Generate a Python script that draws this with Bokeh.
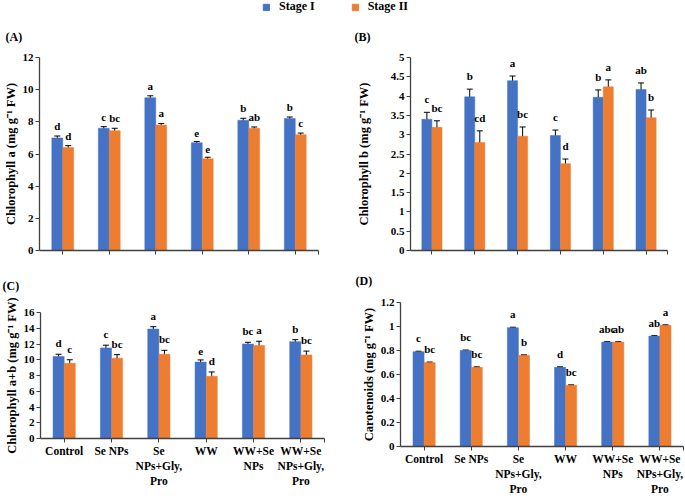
from bokeh.plotting import figure
from bokeh.models import (ColumnDataSource, FixedTicker, PrintfTickFormatter, Whisker,
                          TeeHead, Legend, LegendItem, Range1d, Title, LinearAxis)
from bokeh.layouts import column, row
from bokeh.embed import file_html
from bokeh.resources import INLINE
from bokeh.core.properties import value

# ---------------- data ----------------
categories = ["Control", "Se NPs", "Se\nNPs+Gly,\nPro", "WW", "WW+Se\nNPs", "WW+Se\nNPs+Gly,\nPro"]
series_names = ["Stage I", "Stage II"]
panel_tags = ["(A)", "(B)", "(C)", "(D)"]
y_titles = ["Chlorophyll a (mg g\u207b\u00b9 FW)", "Chlorophyll b (mg g\u207b\u00b9 FW)",
            "Chlorophyll a+b (mg g\u207b\u00b9 FW)", "Carotenoids (mg g\u207b\u00b9 FW)"]

# (A) Chlorophyll a
chla_s1 = [7.0, 7.6, 9.5, 6.7, 8.1, 8.2]
chla_s1_err = [0.12, 0.1, 0.12, 0.08, 0.12, 0.1]
chla_s2 = [6.4, 7.45, 7.8, 5.7, 7.6, 7.2]
chla_s2_err = [0.12, 0.15, 0.1, 0.1, 0.08, 0.1]
chla_s1_let = ["d", "c", "a", "e", "b", "b"]
chla_s2_let = ["d", "bc", "a", "e", "ab", "c"]
chla_ticks = [0, 2, 4, 6, 8, 10, 12]

# (B) Chlorophyll b
chlb_s1 = [3.40, 3.98, 4.40, 2.98, 3.97, 4.17]
chlb_s1_err = [0.18, 0.2, 0.12, 0.14, 0.19, 0.17]
chlb_s2 = [3.19, 2.80, 2.96, 2.25, 4.24, 3.44]
chlb_s2_err = [0.17, 0.3, 0.24, 0.12, 0.18, 0.2]
chlb_s1_let = ["c", "b", "a", "c", "b", "ab"]
chlb_s2_let = ["bc", "cd", "bc", "d", "a", "b"]
chlb_ticks = [0, 0.5, 1, 1.5, 2, 2.5, 3, 3.5, 4, 4.5, 5]

# (C) Chlorophyll a+b
chlab_s1 = [10.4, 11.5, 13.9, 9.7, 12.0, 12.3]
chlab_s1_err = [0.3, 0.35, 0.3, 0.28, 0.22, 0.25]
chlab_s2 = [9.55, 10.2, 10.7, 7.9, 11.8, 10.6]
chlab_s2_err = [0.45, 0.45, 0.5, 0.55, 0.55, 0.5]
chlab_s1_let = ["d", "c", "a", "e", "bc", "b"]
chlab_s2_let = ["c", "bc", "bc", "d", "a", "bc"]
chlab_ticks = [0, 2, 4, 6, 8, 10, 12, 14, 16]

# (D) Carotenoids
car_s1 = [0.79, 0.80, 0.99, 0.66, 0.87, 0.92]
car_s1_err = [0.004, 0.004, 0.004, 0.004, 0.004, 0.004]
car_s2 = [0.70, 0.66, 0.76, 0.51, 0.87, 1.01]
car_s2_err = [0.004, 0.004, 0.004, 0.004, 0.004, 0.004]
car_s1_let = ["c", "bc", "a", "d", "abc", "ab"]
car_s2_let = ["bc", "bc", "b", "bc", "ab", "a"]
car_ticks = [0, 0.2, 0.4, 0.6, 0.8, 1, 1.2]

# ---------------- style ----------------
BLUE = "#4472C4"
ORANGE = "#ED7D31"
AXIS = "#404040"
FONT = "Liberation Serif"
BAR_W = 0.235


def style_x_axis(ax, font_size):
    ax.major_label_text_font = FONT
    ax.major_label_text_font_style = "bold"
    ax.major_label_text_font_size = font_size
    ax.major_label_text_color = "black"


def make_panel(width, height, frame, s1, e1, s2, e2, l1, l2, yticks, ytitle,
               tag, tag_off, tag_standoff, show_x_labels, title_standoff, letter_off):
    left, right, top, bottom = frame
    ncat = len(categories)
    ymin, ymax = yticks[0], yticks[-1]
    title = Title(text=tag, align="left", offset=tag_off, vertical_align="top",
                  text_font=FONT, text_font_style="bold", text_font_size="12px",
                  text_color="black")
    if "standoff" in Title.properties():
        title.standoff = tag_standoff
    p = figure(width=width, height=height, output_backend="svg", toolbar_location=None,
               x_range=Range1d(0, ncat), y_range=Range1d(ymin, ymax),
               min_border_left=left, min_border_right=right,
               min_border_top=top, min_border_bottom=bottom, title=title)
    p.xgrid.visible = False
    p.ygrid.visible = False
    p.outline_line_color = None

    xc = [i + 0.5 for i in range(ncat)]
    x1 = [x - BAR_W / 2 for x in xc]
    x2 = [x + BAR_W / 2 for x in xc]
    for xs, vals, errs, lets, col in ((x1, s1, e1, l1, BLUE), (x2, s2, e2, l2, ORANGE)):
        src = ColumnDataSource(dict(x=xs, top=vals,
                                    upper=[v + e for v, e in zip(vals, errs)],
                                    lower=[v - e for v, e in zip(vals, errs)],
                                    let=lets))
        p.vbar(x="x", top="top", bottom=0, width=BAR_W, source=src,
               fill_color=col, line_color=col, line_width=0.5)
        p.add_layout(Whisker(source=src, base="x", upper="upper", lower="lower",
                             line_color="black", line_width=1,
                             upper_head=TeeHead(size=6, line_color="black", line_width=1),
                             lower_head=TeeHead(size=6, line_color="black", line_width=1)))
        p.text(x="x", y="upper", text="let", source=src, text_align="center",
               text_baseline="bottom", y_offset=-letter_off,
               text_font=value(FONT), text_font_style="bold",
               text_font_size=value("11px"), text_color="black")

    # x axis line with ticks at category centres plus one at the axis end
    xa = p.xaxis[0]
    xa.axis_label = None
    xa.ticker = FixedTicker(ticks=[], minor_ticks=xc + [float(ncat)])
    xa.minor_tick_in = 0
    xa.minor_tick_out = 4
    xa.minor_tick_line_color = AXIS
    xa.major_tick_line_color = AXIS
    xa.axis_line_color = AXIS
    xa.axis_line_width = 1.3
    xa.major_label_standoff = 0
    style_x_axis(xa, "11.5px")
    if show_x_labels:
        # category names wrap over up to three lines; one label row per line
        lines = [c.split("\n") for c in categories]
        for k in range(max(len(l) for l in lines)):
            tk = [x for x, l in zip(xc, lines) if len(l) > k]
            lab = {x: l[k] for x, l in zip(xc, lines) if len(l) > k}
            ax = LinearAxis(ticker=FixedTicker(ticks=tk, minor_ticks=[]),
                            axis_line_color=None, major_tick_line_color=None,
                            minor_tick_line_color=None, major_tick_out=0,
                            major_tick_in=0, major_label_standoff=2 if k == 0 else 0,
                            major_label_overrides=lab, axis_label=None)
            style_x_axis(ax, "11.5px")
            p.add_layout(ax, "below")

    ya = p.yaxis[0]
    ya.ticker = FixedTicker(ticks=yticks)
    ya.formatter = PrintfTickFormatter(format="%g")
    ya.major_tick_in = 0
    ya.major_tick_out = 4
    ya.minor_tick_line_color = None
    ya.axis_line_color = AXIS
    ya.axis_line_width = 1.3
    ya.major_tick_line_color = AXIS
    ya.major_label_standoff = 2
    ya.major_label_text_font = FONT
    ya.major_label_text_font_style = "bold"
    ya.major_label_text_font_size = "11px"
    ya.major_label_text_color = "black"
    ya.axis_label = ytitle
    ya.axis_label_text_font = FONT
    ya.axis_label_text_font_style = "bold"
    ya.axis_label_text_font_size = "12.5px"
    ya.axis_label_text_color = "black"
    ya.axis_label_standoff = title_standoff
    return p


TOTAL_W = 685
LEFT_W = 345
RIGHT_W = TOTAL_W - LEFT_W

pA = make_panel(LEFT_W, 242, (39, 27, 36, 10), chla_s1, chla_s1_err, chla_s2, chla_s2_err,
                chla_s1_let, chla_s2_let, chla_ticks, y_titles[0], panel_tags[0], -34, 23,
                False, 2, 4)
pB = make_panel(RIGHT_W, 242, (65, 18, 36, 10), chlb_s1, chlb_s1_err, chlb_s2, chlb_s2_err,
                chlb_s1_let, chlb_s2_let, chlb_ticks, y_titles[1], panel_tags[1], -56, 23,
                False, 17, 7)
pC = make_panel(LEFT_W, 229, (40, 21, 49, 48), chlab_s1, chlab_s1_err, chlab_s2, chlab_s2_err,
                chlab_s1_let, chlab_s2_let, chlab_ticks, y_titles[2], panel_tags[2], -38, 36,
                True, 2, 5)
pD = make_panel(RIGHT_W, 237, (55, 2, 39, 48), car_s1, car_s1_err, car_s2, car_s2_err,
                car_s1_let, car_s2_let, car_ticks, y_titles[3], panel_tags[3], -45, 26,
                True, 2, 7)

# legend strip
leg = figure(width=TOTAL_W, height=18, output_backend="svg", toolbar_location=None,
             x_range=Range1d(0, 1), y_range=Range1d(0, 1),
             x_axis_location=None, y_axis_location=None, min_border=0)
leg.xgrid.visible = False
leg.ygrid.visible = False
leg.outline_line_color = None
r1 = leg.vbar(x=[5], top=[5], bottom=4, width=0.1, fill_color=BLUE, line_color=BLUE)
r2 = leg.vbar(x=[5], top=[5], bottom=4, width=0.1, fill_color=ORANGE, line_color=ORANGE)
legend = Legend(items=[LegendItem(label=series_names[0], renderers=[r1]),
                       LegendItem(label=series_names[1], renderers=[r2])],
                orientation="horizontal", location=(262, 4),
                border_line_color=None, background_fill_alpha=0,
                padding=0, margin=0, spacing=36, glyph_width=8, glyph_height=8,
                label_height=12, label_standoff=9,
                label_text_font=FONT, label_text_font_style="bold",
                label_text_font_size="12px", label_text_color="black")
leg.add_layout(legend, "center")

layout = column(leg,
                row(pA, pB, spacing=0),
                row(column(pC), column(pD), spacing=0),
                spacing=0)

with open("out.html", "w") as f:
    f.write(file_html(layout, INLINE))
